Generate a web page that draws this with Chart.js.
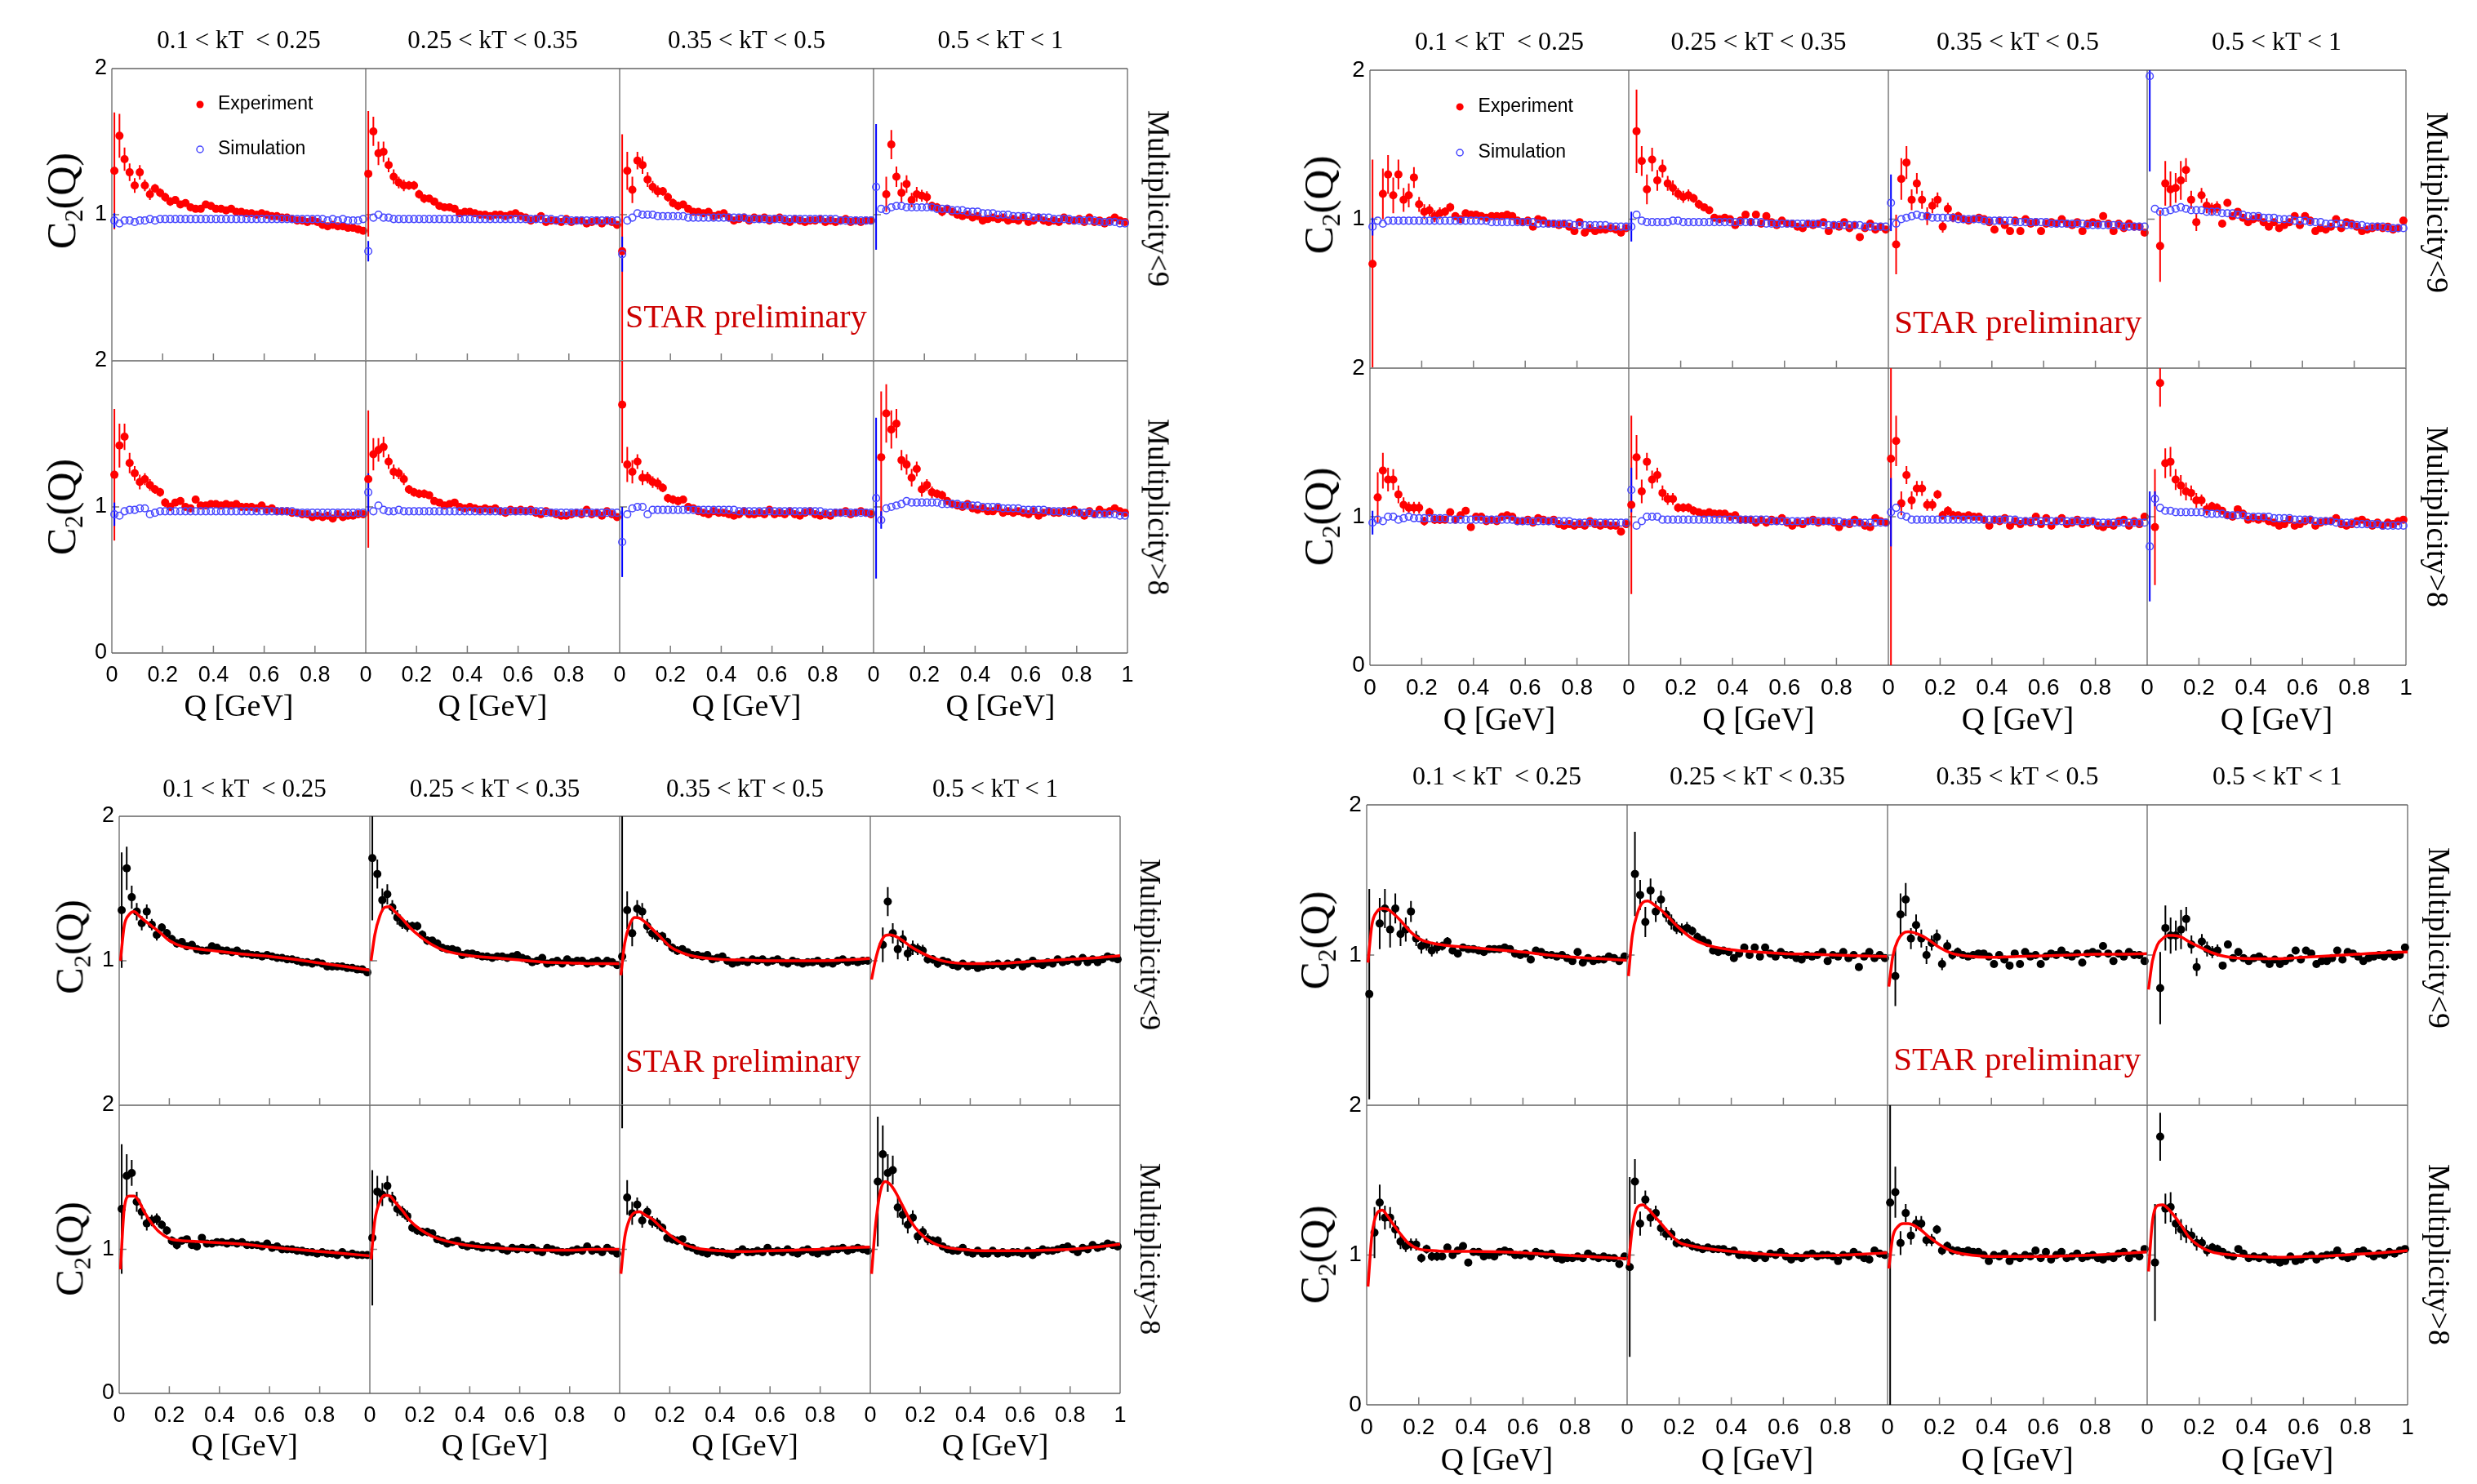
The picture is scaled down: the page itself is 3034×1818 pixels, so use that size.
<!DOCTYPE html>
<html>
<head>
<meta charset="utf-8">
<script src="https://cdn.jsdelivr.net/npm/chart.js@4.4.0/dist/chart.umd.min.js"></script>
<style>
  body { margin: 0; background: #fff; }
  #page { position: relative; width: 3034px; height: 1818px; overflow: hidden; background: #fff; }
  #page canvas { position: absolute; }
  .lbl { position: absolute; white-space: pre; color: #000; line-height: 1; }
  .lbl sub { font-size: 62%; vertical-align: -0.28em; line-height: 0; }
</style>
</head>
<body>
<div id="page"></div>
<script>
// ---- data ----
const qBins = [0.01,0.03,0.05,0.07,0.09,0.11,0.13,0.15,0.17,0.19,0.21,0.23,0.25,0.27,0.29,0.31,0.33,0.35,0.37,0.39,
  0.41,0.43,0.45,0.47,0.49,0.51,0.53,0.55,0.57,0.59,0.61,0.63,0.65,0.67,0.69,0.71,0.73,0.75,0.77,0.79,
  0.81,0.83,0.85,0.87,0.89,0.91,0.93,0.95,0.97,0.99];
const qFit = [0.005,0.02,0.04,0.06,0.08,0.1,0.13,0.16,0.2,0.25,0.3,0.4,0.5,0.6,0.7,0.8,0.9,1.0];

const kTLabels = ['0.1 < kT  < 0.25', '0.25 < kT < 0.35', '0.35 < kT < 0.5', '0.5 < kT < 1'];
const multLabels = ['Multiplicity<9', 'Multiplicity>8'];
const seriesNames = ['Experiment', 'Simulation'];
const xTickValues = [0, 0.2, 0.4, 0.6, 0.8, 1];
const xTickLabels = ['0', '0.2', '0.4', '0.6', '0.8', '1'];
const yTickValues = [0, 1, 2];
const yTickLabels = ['0', '1', '2'];

// upper-left figure: experiment, Multiplicity<9
const expA_lt9_kt1 = [1.30,1.54,1.38,1.29,1.20,1.29,1.20,1.14,1.18,1.15,1.12,1.09,1.10,1.07,1.08,1.05,1.04,1.04,1.07,1.06,
  1.04,1.04,1.03,1.04,1.02,1.02,1.01,1.01,1.00,1.01,1.00,0.99,0.99,0.98,0.98,0.97,0.96,0.96,0.95,0.96,
  0.95,0.93,0.92,0.93,0.92,0.92,0.91,0.91,0.90,0.89];
const expA_lt9_kt2 = [1.28,1.57,1.42,1.43,1.34,1.26,1.22,1.20,1.20,1.20,1.14,1.11,1.11,1.09,1.06,1.05,1.05,1.04,1.01,1.02,
  1.02,1.01,1.00,1.00,0.99,1.00,1.00,0.99,1.00,1.01,0.99,0.98,0.96,0.97,0.99,0.95,0.96,0.96,0.95,0.97,
  0.95,0.96,0.96,0.94,0.95,0.96,0.94,0.96,0.95,0.93];
const expA_lt9_kt3 = [0.75,1.30,1.17,1.37,1.34,1.24,1.19,1.16,1.16,1.12,1.08,1.06,1.07,1.04,1.02,1.02,1.01,1.02,0.99,1.00,
  1.01,0.98,0.96,0.97,0.98,0.96,0.98,0.97,0.98,0.96,0.97,0.98,0.96,0.95,0.97,0.96,0.95,0.96,0.96,0.97,
  0.95,0.96,0.95,0.96,0.97,0.95,0.96,0.95,0.96,0.96];
const expA_lt9_kt4 = [null,null,1.14,1.48,1.26,1.15,1.21,1.10,1.14,1.13,1.12,1.06,1.05,1.02,1.04,1.02,1.00,0.99,1.00,0.98,
  0.99,0.96,0.97,0.98,0.97,0.98,0.96,0.97,0.96,0.98,0.95,0.96,0.98,0.96,0.95,0.96,0.95,0.98,0.96,0.96,
  0.97,0.95,0.98,0.95,0.96,0.94,0.96,0.98,0.96,0.95];
// upper-left figure: experiment, Multiplicity>8
const expA_gt8_kt1 = [1.22,1.42,1.48,1.30,1.23,1.17,1.19,1.15,1.12,1.10,1.03,1.00,1.03,1.04,1.00,0.99,1.05,1.01,1.01,1.02,
  1.02,1.01,1.02,1.01,1.02,1.00,1.00,1.00,0.99,1.01,0.98,0.99,0.97,0.97,0.97,0.96,0.96,0.95,0.95,0.93,
  0.94,0.93,0.94,0.92,0.95,0.93,0.94,0.94,0.95,0.95];
const expA_gt8_kt2 = [1.19,1.36,1.39,1.41,1.31,1.24,1.23,1.19,1.12,1.10,1.09,1.09,1.08,1.04,1.03,1.01,1.02,1.03,1.00,0.99,
  1.00,0.99,0.98,0.99,0.98,0.99,0.97,0.96,0.98,0.97,0.98,0.97,0.98,0.96,0.95,0.97,0.96,0.95,0.94,0.94,
  0.95,0.96,0.95,0.98,0.95,0.96,0.94,0.97,0.95,0.93];
const expA_gt8_kt3 = [1.70,1.29,1.24,1.31,1.20,1.20,1.17,1.16,1.13,1.06,1.05,1.04,1.05,1.00,0.99,0.97,0.96,0.95,0.97,0.96,
  0.96,0.95,0.94,0.95,0.97,0.95,0.95,0.96,0.95,0.98,0.95,0.96,0.95,0.97,0.95,0.94,0.96,0.97,0.95,0.94,
  0.95,0.94,0.96,0.96,0.97,0.95,0.96,0.97,0.96,0.95];
const expA_gt8_kt4 = [null,1.34,1.64,1.53,1.57,1.32,1.29,1.20,1.26,1.12,1.15,1.10,1.09,1.08,1.04,1.02,1.01,1.00,1.02,0.99,
  0.98,0.99,0.97,0.97,0.99,0.96,0.97,0.96,0.97,0.96,0.95,0.97,0.94,0.96,0.97,0.96,0.96,0.97,0.97,0.98,
  0.96,0.94,0.97,0.95,0.98,0.96,0.97,0.99,0.97,0.96];
// error bars of the first bins (later bins hide under the marker)
const errA_lt9_kt1 = [0.40,0.15,0.08,0.06,0.05,0.05,0.04,0.04,0.03,0.03,0.03,0.03,0.02,0.02];
const errA_lt9_kt2 = [0.43,0.10,0.08,0.07,0.05,0.05,0.04,0.04,0.03,0.03,0.03,0.03,0.02,0.02];
const errA_lt9_kt3 = [0.80,0.13,0.09,0.06,0.06,0.05,0.04,0.04,0.03,0.03,0.03,0.03,0.02,0.02];
const errA_lt9_kt4 = [null,null,0.12,0.10,0.07,0.07,0.06,0.05,0.05,0.04,0.04,0.03,0.03,0.03];
const errA_gt8_kt1 = [0.45,0.15,0.09,0.07,0.05,0.05,0.04,0.04,0.03,0.03,0.03,0.03,0.02,0.02];
const errA_gt8_kt2 = [0.47,0.11,0.08,0.07,0.05,0.05,0.04,0.04,0.03,0.03,0.03,0.03,0.02,0.02];
const errA_gt8_kt3 = [0.40,0.12,0.08,0.05,0.05,0.04,0.04,0.04,0.03,0.03,0.03,0.03,0.02,0.02];
const errA_gt8_kt4 = [null,0.45,0.20,0.13,0.10,0.07,0.07,0.06,0.05,0.05,0.04,0.04,0.03,0.03];
const errC_lt9_kt3 = [1.10,0.13,0.09,0.06,0.06,0.05,0.04,0.04,0.03,0.03,0.03,0.03,0.02,0.02];

// upper-left figure: simulation
const simA_lt9_kt1 = [0.96,0.94,0.96,0.96,0.95,0.96,0.96,0.97,0.96,0.97,0.97,0.97,0.97,0.97,0.97,0.97,0.97,0.97,0.97,0.97,
  0.97,0.97,0.97,0.97,0.97,0.97,0.97,0.97,0.97,0.97,0.97,0.97,0.97,0.97,0.97,0.97,0.97,0.97,0.97,0.97,
  0.97,0.97,0.96,0.97,0.96,0.97,0.96,0.96,0.96,0.97];
const simA_lt9_kt2 = [0.75,0.98,1.00,0.98,0.98,0.97,0.97,0.97,0.97,0.97,0.97,0.97,0.97,0.97,0.97,0.97,0.97,0.97,0.97,0.97,
  0.97,0.97,0.97,0.97,0.97,0.97,0.97,0.97,0.97,0.97,0.97,0.97,0.97,0.97,0.97,0.97,0.97,0.96,0.97,0.96,
  0.96,0.96,0.96,0.96,0.96,0.96,0.96,0.96,0.96,0.96];
const simA_lt9_kt3 = [0.73,0.96,0.98,1.01,1.00,1.00,1.00,0.99,0.99,0.99,0.99,0.99,0.99,0.98,0.98,0.98,0.98,0.98,0.98,0.98,
  0.98,0.98,0.98,0.98,0.98,0.97,0.97,0.97,0.97,0.97,0.97,0.97,0.97,0.97,0.97,0.97,0.97,0.97,0.97,0.97,
  0.97,0.97,0.97,0.96,0.96,0.96,0.96,0.96,0.96,0.96];
const simA_lt9_kt4 = [1.19,1.04,1.03,1.05,1.06,1.06,1.05,1.05,1.05,1.05,1.05,1.05,1.04,1.04,1.04,1.03,1.03,1.03,1.02,1.02,
  1.02,1.01,1.01,1.01,1.00,1.00,1.00,0.99,0.99,0.99,0.99,0.98,0.98,0.98,0.98,0.97,0.97,0.97,0.97,0.96,
  0.96,0.96,0.96,0.96,0.95,0.95,0.95,0.95,0.94,0.94];
const simA_gt8_kt1 = [0.95,0.94,0.97,0.98,0.98,0.99,0.99,0.95,0.96,0.97,0.97,0.97,0.97,0.97,0.97,0.97,0.97,0.97,0.97,0.97,
  0.97,0.97,0.97,0.97,0.97,0.97,0.97,0.97,0.97,0.97,0.97,0.97,0.97,0.97,0.97,0.97,0.96,0.96,0.96,0.96,
  0.96,0.96,0.96,0.96,0.96,0.96,0.96,0.96,0.96,0.96];
const simA_gt8_kt2 = [1.10,0.97,1.01,0.98,0.97,0.97,0.98,0.97,0.97,0.97,0.97,0.97,0.97,0.97,0.97,0.97,0.97,0.97,0.97,0.97,
  0.97,0.97,0.97,0.97,0.97,0.97,0.97,0.97,0.97,0.97,0.97,0.97,0.97,0.97,0.97,0.96,0.96,0.96,0.96,0.96,
  0.96,0.96,0.96,0.96,0.96,0.96,0.96,0.96,0.96,0.96];
const simA_gt8_kt3 = [0.76,0.95,0.99,1.00,1.00,0.95,0.98,0.98,0.98,0.98,0.98,0.98,0.98,0.98,0.98,0.98,0.98,0.98,0.98,0.98,
  0.98,0.98,0.98,0.97,0.97,0.97,0.97,0.97,0.97,0.97,0.97,0.97,0.97,0.97,0.97,0.97,0.97,0.97,0.97,0.97,
  0.96,0.96,0.96,0.96,0.96,0.96,0.96,0.96,0.96,0.96];
const simA_gt8_kt4 = [1.06,0.91,0.99,1.00,1.01,1.02,1.04,1.03,1.03,1.03,1.03,1.03,1.03,1.02,1.02,1.02,1.02,1.01,1.01,1.01,
  1.01,1.00,1.00,1.00,1.00,0.99,0.99,0.99,0.99,0.98,0.98,0.98,0.98,0.98,0.97,0.97,0.97,0.97,0.96,0.96,
  0.96,0.96,0.96,0.95,0.95,0.95,0.95,0.95,0.94,0.94];
const simErrA_lt9_kt1 = [0.05];
const simErrA_lt9_kt2 = [0.07];
const simErrA_lt9_kt3 = [0.12];
const simErrA_lt9_kt4 = [0.43];
const simErrA_gt8_kt1 = [0.08];
const simErrA_gt8_kt2 = [0.13];
const simErrA_gt8_kt3 = [0.24];
const simErrA_gt8_kt4 = [0.55,0.06];

// upper-right figure: experiment, Multiplicity<9
const expB_lt9_kt1 = [0.70,null,1.17,1.30,1.16,1.30,1.13,1.16,1.28,1.10,1.05,1.06,1.02,1.04,1.05,1.08,1.02,1.00,1.04,1.03,
  1.03,1.02,1.01,1.02,1.02,1.02,1.03,1.02,0.99,0.98,0.99,0.95,1.00,0.99,0.97,0.97,0.96,0.97,0.95,0.92,
  0.98,0.91,0.94,0.92,0.93,0.93,0.94,0.93,0.91,0.94];
const expB_lt9_kt2 = [null,1.59,1.39,1.20,1.40,1.26,1.34,1.24,1.21,1.17,1.15,1.16,1.14,1.10,1.08,1.06,1.01,1.00,1.01,1.00,
  0.96,0.99,1.03,0.98,1.03,0.97,1.02,0.98,0.96,0.99,0.97,0.97,0.95,0.94,0.97,0.96,0.97,0.98,0.92,0.96,
  0.95,0.98,0.94,0.96,0.88,0.94,0.97,0.93,0.95,0.93];
const expB_lt9_kt3 = [null,0.83,1.27,1.38,1.13,1.24,1.13,1.02,1.09,1.13,0.95,1.07,1.01,1.02,1.00,0.99,1.00,1.01,1.00,0.98,
  0.93,0.99,0.96,0.92,0.99,0.92,1.00,0.97,0.98,0.92,0.97,0.98,0.97,1.00,0.97,0.96,0.98,0.92,0.97,0.98,
  0.97,1.02,0.97,0.92,0.97,0.94,0.97,0.95,0.95,0.91];
const expB_lt9_kt4 = [null,null,0.82,1.24,1.20,1.21,1.26,1.33,1.13,0.98,1.16,1.09,1.07,1.08,0.97,1.11,1.02,1.05,1.01,0.98,
  1.00,1.01,0.98,0.95,0.98,0.94,0.96,0.98,1.02,0.96,1.02,0.99,0.92,0.94,0.93,0.95,1.00,0.94,0.98,0.97,
  0.95,0.92,0.93,0.94,0.95,0.94,0.95,0.93,0.94,0.99];
// upper-right figure: experiment, Multiplicity>8
const expB_gt8_kt1 = [null,1.13,1.31,1.25,1.25,1.15,1.08,1.06,1.06,1.06,0.97,1.03,0.98,0.98,0.98,1.03,0.98,1.01,1.04,0.93,
  1.00,1.00,0.97,0.98,0.97,1.00,1.01,1.00,0.97,0.97,0.98,0.96,0.99,0.98,0.97,0.98,0.95,0.94,0.95,0.94,
  0.95,0.94,0.97,0.95,0.94,0.95,0.94,0.94,0.90,0.95];
const expB_gt8_kt2 = [1.08,1.40,1.17,1.37,1.25,1.28,1.16,1.12,1.12,1.06,1.06,1.06,1.04,1.03,1.02,1.03,1.02,1.02,1.02,1.00,
  1.01,0.98,0.98,0.98,0.96,0.98,0.96,0.98,0.97,0.99,0.96,0.94,0.96,0.95,0.97,0.98,0.96,0.97,0.97,0.96,
  0.93,0.96,0.95,0.98,0.96,0.94,0.93,0.99,0.97,0.96];
const expB_gt8_kt3 = [1.39,1.51,1.09,1.28,1.11,1.19,1.19,1.08,1.08,1.15,1.01,1.04,1.01,1.01,1.00,1.01,1.00,1.00,0.98,0.94,
  0.98,0.97,0.99,0.94,0.97,0.95,0.97,0.96,1.00,0.95,0.99,0.94,0.97,0.99,0.95,0.96,0.98,0.95,0.96,0.97,
  0.94,0.93,0.95,0.94,0.97,0.98,0.94,0.97,0.95,1.00];
const expB_gt8_kt4 = [null,0.93,1.90,1.36,1.37,1.25,1.21,1.17,1.16,1.11,1.11,1.05,1.07,1.06,1.04,1.01,1.00,1.05,1.02,0.98,
  0.99,0.98,0.99,0.97,0.96,0.94,0.95,0.98,0.94,0.95,0.97,0.98,0.94,0.96,0.97,0.97,0.99,0.95,0.94,0.95,
  0.97,0.98,0.96,0.94,0.96,0.94,0.96,0.95,0.97,0.98];
const errB_lt9_kt1 = [0.70,null,0.17,0.13,0.12,0.10,0.08,0.08,0.07,0.05,0.05,0.04,0.04,0.04,0.03,0.03];
const errB_lt9_kt2 = [null,0.28,0.10,0.10,0.08,0.07,0.06,0.05,0.05,0.04,0.04,0.04,0.03,0.03];
const errB_lt9_kt3 = [null,0.20,0.14,0.11,0.07,0.07,0.06,0.06,0.05,0.05,0.04,0.04,0.03,0.03];
const errB_lt9_kt4 = [null,null,0.24,0.15,0.12,0.10,0.13,0.08,0.06,0.06,0.05,0.05,0.04,0.04];
const errB_gt8_kt1 = [null,0.17,0.12,0.08,0.07,0.06,0.05,0.04,0.04,0.04,0.03,0.03,0.03,0.03];
const errB_gt8_kt2 = [0.60,0.15,0.08,0.06,0.06,0.05,0.05,0.04,0.04,0.03,0.03,0.03,0.03,0.02];
const errB_gt8_kt3 = [1.40,0.17,0.08,0.06,0.06,0.05,0.05,0.04,0.04,0.03,0.03,0.03,0.03,0.02];
const errB_gt8_kt4 = [null,0.39,0.16,0.10,0.10,0.07,0.07,0.06,0.05,0.05,0.04,0.04,0.03,0.03];

// upper-right figure: simulation
const simB_lt9_kt1 = [0.95,0.99,0.97,0.99,0.99,0.99,0.99,0.99,0.99,0.99,0.99,0.99,0.99,0.99,0.99,0.99,0.99,0.99,0.99,0.99,
  0.99,0.99,0.99,0.98,0.98,0.98,0.98,0.98,0.98,0.98,0.98,0.98,0.97,0.97,0.97,0.97,0.97,0.97,0.97,0.96,
  0.96,0.96,0.96,0.96,0.96,0.96,0.95,0.95,0.95,0.95];
const simB_lt9_kt2 = [0.95,1.03,0.99,0.98,0.98,0.98,0.98,0.98,0.99,0.99,0.98,0.98,0.98,0.98,0.98,0.98,0.98,0.98,0.98,0.98,
  0.98,0.98,0.98,0.98,0.98,0.98,0.97,0.97,0.97,0.97,0.97,0.97,0.97,0.97,0.97,0.97,0.97,0.96,0.96,0.96,
  0.96,0.96,0.96,0.96,0.96,0.95,0.95,0.95,0.95,0.95];
const simB_lt9_kt3 = [1.11,0.97,1.00,1.01,1.02,1.03,1.02,1.02,1.01,1.01,1.01,1.01,1.01,1.00,1.00,1.00,1.00,1.00,0.99,0.99,
  0.99,0.99,0.99,0.99,0.98,0.98,0.98,0.98,0.98,0.98,0.98,0.97,0.97,0.97,0.97,0.97,0.97,0.97,0.96,0.96,
  0.96,0.96,0.96,0.96,0.96,0.95,0.95,0.95,0.95,0.95];
const simB_lt9_kt4 = [1.96,1.07,1.05,1.05,1.06,1.07,1.08,1.07,1.06,1.06,1.06,1.05,1.05,1.05,1.04,1.04,1.04,1.03,1.03,1.02,
  1.02,1.02,1.01,1.01,1.01,1.00,1.00,1.00,0.99,0.99,0.99,0.98,0.98,0.98,0.97,0.97,0.97,0.97,0.96,0.96,
  0.96,0.96,0.95,0.95,0.95,0.95,0.94,0.94,0.94,0.94];
const simB_gt8_kt1 = [0.96,0.98,0.97,1.00,1.00,0.98,0.99,1.00,0.99,0.99,0.99,0.99,0.99,0.99,0.99,0.98,0.98,0.98,0.98,0.98,
  0.98,0.98,0.98,0.98,0.98,0.98,0.98,0.98,0.97,0.97,0.97,0.97,0.97,0.97,0.97,0.97,0.97,0.97,0.97,0.96,
  0.96,0.96,0.96,0.96,0.96,0.96,0.96,0.96,0.96,0.96];
const simB_gt8_kt2 = [1.18,0.94,0.97,1.00,1.00,1.00,0.98,0.98,0.98,0.98,0.98,0.98,0.98,0.98,0.98,0.98,0.98,0.98,0.98,0.98,
  0.98,0.98,0.98,0.98,0.98,0.98,0.98,0.97,0.97,0.97,0.97,0.97,0.97,0.97,0.97,0.97,0.97,0.97,0.97,0.97,
  0.97,0.96,0.96,0.96,0.96,0.96,0.96,0.96,0.96,0.96];
const simB_gt8_kt3 = [1.03,1.06,1.01,1.00,0.98,0.98,0.98,0.98,0.98,0.98,0.98,0.98,0.98,0.98,0.98,0.98,0.98,0.98,0.98,0.98,
  0.98,0.98,0.98,0.98,0.98,0.97,0.97,0.97,0.97,0.97,0.97,0.97,0.97,0.97,0.97,0.97,0.97,0.97,0.97,0.97,
  0.96,0.96,0.96,0.96,0.96,0.96,0.96,0.96,0.96,0.96];
const simB_gt8_kt4 = [0.80,1.12,1.06,1.04,1.04,1.03,1.03,1.03,1.03,1.03,1.03,1.02,1.02,1.02,1.02,1.01,1.01,1.01,1.01,1.00,
  1.00,1.00,1.00,1.00,0.99,0.99,0.99,0.99,0.98,0.98,0.98,0.98,0.97,0.97,0.97,0.97,0.96,0.96,0.96,0.96,
  0.95,0.95,0.95,0.95,0.95,0.94,0.94,0.94,0.94,0.94];
const simErrB_lt9_kt1 = [0.06];
const simErrB_lt9_kt2 = [0.10];
const simErrB_lt9_kt3 = [0.19];
const simErrB_lt9_kt4 = [0.64];
const simErrB_gt8_kt1 = [0.08];
const simErrB_gt8_kt2 = [0.15];
const simErrB_gt8_kt3 = [0.23];
const simErrB_gt8_kt4 = [0.37,0.05];

// lower-left figure: data points (black)
const expC_lt9_kt1 = [1.35,1.64,1.44,1.34,1.26,1.34,1.25,1.18,1.23,1.19,1.15,1.12,1.13,1.10,1.11,1.08,1.07,1.07,1.10,1.09,
  1.07,1.07,1.06,1.07,1.05,1.05,1.04,1.04,1.03,1.04,1.03,1.02,1.02,1.01,1.01,1.00,0.99,0.99,0.98,0.99,
  0.98,0.96,0.96,0.96,0.96,0.95,0.95,0.94,0.94,0.92];
const expC_lt9_kt2 = [1.71,1.60,1.42,1.46,1.37,1.30,1.26,1.24,1.24,1.24,1.18,1.14,1.14,1.12,1.09,1.08,1.08,1.07,1.04,1.05,
  1.05,1.04,1.03,1.03,1.02,1.03,1.03,1.02,1.03,1.04,1.02,1.01,0.99,1.00,1.02,0.98,0.99,1.00,0.98,1.01,
  0.99,1.00,1.00,0.98,0.99,1.00,0.98,1.00,0.99,0.97];
const expC_lt9_kt3 = [1.03,1.35,1.19,1.36,1.34,1.24,1.19,1.17,1.17,1.13,1.09,1.07,1.08,1.06,1.04,1.04,1.03,1.04,1.01,1.02,
  1.03,1.00,0.98,0.99,1.00,0.99,1.01,1.00,1.01,0.99,1.00,1.01,0.99,0.98,1.00,0.99,0.98,0.99,0.99,1.00,
  0.98,0.99,0.98,1.00,1.01,0.99,1.00,0.99,1.00,1.00];
const expC_lt9_kt4 = [null,null,1.11,1.41,1.19,1.08,1.15,1.05,1.09,1.08,1.07,1.01,1.01,0.98,1.00,0.99,0.97,0.96,0.98,0.96,
  0.97,0.95,0.96,0.97,0.97,0.98,0.96,0.98,0.97,0.99,0.96,0.98,1.00,0.98,0.97,0.99,0.98,1.01,0.99,1.00,
  1.01,0.99,1.02,0.99,1.01,0.99,1.01,1.03,1.02,1.01];
const expC_gt8_kt1 = [1.28,1.51,1.53,1.33,1.26,1.18,1.20,1.21,1.17,1.13,1.06,1.03,1.06,1.07,1.03,1.02,1.08,1.04,1.04,1.05,
  1.05,1.04,1.05,1.04,1.05,1.03,1.03,1.03,1.02,1.04,1.01,1.02,1.00,1.00,1.00,0.99,0.99,0.98,0.98,0.97,
  0.98,0.97,0.97,0.96,0.98,0.96,0.97,0.96,0.96,0.96];
const expC_gt8_kt2 = [1.08,1.40,1.38,1.44,1.35,1.28,1.26,1.23,1.15,1.13,1.12,1.12,1.11,1.07,1.06,1.04,1.05,1.06,1.03,1.02,
  1.03,1.02,1.01,1.02,1.01,1.02,1.00,0.99,1.01,1.00,1.01,1.00,1.01,0.99,0.98,1.01,1.00,0.99,0.98,0.98,
  0.99,1.00,0.99,1.02,0.99,1.00,0.98,1.01,0.99,0.97];
const expC_gt8_kt3 = [2.24,1.36,1.25,1.31,1.20,1.26,1.19,1.18,1.15,1.08,1.07,1.06,1.07,1.02,1.01,0.99,0.98,0.97,0.99,0.98,
  0.98,0.97,0.96,0.98,1.00,0.98,0.98,0.99,0.98,1.01,0.98,0.99,0.98,1.00,0.98,0.97,0.99,1.00,0.98,0.97,
  0.99,0.98,1.00,1.00,1.01,0.99,1.00,1.01,1.00,0.99];
const expC_gt8_kt4 = [null,1.47,1.66,1.53,1.55,1.29,1.24,1.17,1.22,1.09,1.12,1.07,1.06,1.06,1.02,1.00,0.99,0.99,1.01,0.98,
  0.97,0.99,0.97,0.97,0.99,0.97,0.98,0.97,0.98,0.98,0.97,0.99,0.96,0.98,1.00,0.99,0.99,1.00,1.01,1.02,
  1.00,0.98,1.01,1.00,1.03,1.01,1.02,1.04,1.03,1.02];

// lower-right figure: data points (black)
const expD_lt9_kt1 = [0.74,null,1.21,1.31,1.17,1.31,1.14,1.17,1.29,1.11,1.06,1.07,1.03,1.05,1.06,1.09,1.03,1.01,1.05,1.04,
  1.04,1.03,1.02,1.04,1.04,1.04,1.05,1.04,1.01,1.00,1.01,0.97,1.03,1.02,1.00,1.00,0.99,1.00,0.98,0.96,
  1.02,0.95,0.98,0.96,0.97,0.97,0.99,0.98,0.96,0.99];
const expD_lt9_kt2 = [null,1.54,1.40,1.22,1.43,1.29,1.37,1.27,1.22,1.18,1.17,1.18,1.16,1.12,1.10,1.08,1.03,1.02,1.03,1.02,
  0.98,1.01,1.05,1.00,1.05,0.99,1.05,1.01,0.99,1.02,1.00,1.00,0.98,0.97,1.00,0.99,1.00,1.02,0.96,1.00,
  0.99,1.02,0.98,1.00,0.92,0.99,1.02,0.98,1.00,0.98];
const expD_lt9_kt3 = [null,0.86,1.27,1.37,1.11,1.20,1.11,1.00,1.08,1.12,0.94,1.06,1.00,1.02,1.00,0.99,1.00,1.01,1.01,0.99,
  0.94,1.00,0.97,0.93,1.01,0.94,1.02,0.99,1.00,0.94,0.99,1.01,1.00,1.03,1.00,0.99,1.01,0.95,1.01,1.02,
  1.01,1.06,1.01,0.96,1.01,0.99,1.02,1.00,1.00,0.96];
const expD_lt9_kt4 = [null,null,0.78,1.18,1.13,1.13,1.17,1.24,1.07,0.92,1.09,1.04,1.02,1.03,0.93,1.07,0.98,1.02,0.98,0.96,
  0.98,0.99,0.97,0.94,0.97,0.94,0.96,0.98,1.03,0.97,1.03,1.01,0.94,0.96,0.96,0.98,1.03,0.97,1.02,1.01,
  0.99,0.96,0.98,0.99,1.00,0.99,1.01,0.99,1.00,1.05];
const expD_gt8_kt1 = [null,1.15,1.35,1.25,1.25,1.17,1.09,1.06,1.07,1.07,0.98,1.04,0.99,0.99,0.99,1.05,1.00,1.03,1.06,0.95,
  1.02,1.02,0.99,1.00,0.99,1.02,1.03,1.02,1.00,1.00,1.01,0.99,1.02,1.01,1.00,1.01,0.98,0.97,0.98,0.98,
  0.99,0.98,1.01,0.99,0.98,0.99,0.98,0.98,0.94,0.99];
const expD_gt8_kt2 = [0.92,1.49,1.21,1.37,1.25,1.28,1.18,1.14,1.14,1.08,1.08,1.08,1.06,1.05,1.04,1.05,1.04,1.04,1.04,1.02,
  1.03,1.00,1.00,1.00,0.98,1.00,0.98,1.01,1.00,1.02,0.99,0.97,0.99,0.98,1.00,1.01,0.99,1.00,1.00,0.99,
  0.96,1.00,0.99,1.02,1.00,0.98,0.97,1.03,1.01,1.00];
const expD_gt8_kt3 = [1.35,1.42,1.08,1.28,1.13,1.21,1.21,1.10,1.10,1.17,1.03,1.06,1.03,1.03,1.02,1.03,1.02,1.02,1.00,0.96,
  1.00,0.99,1.01,0.96,0.99,0.98,1.00,0.99,1.03,0.98,1.02,0.97,1.00,1.02,0.98,0.99,1.01,0.98,0.99,1.00,
  0.98,0.97,0.99,0.98,1.01,1.02,0.98,1.01,0.99,1.04];
const expD_gt8_kt4 = [null,0.95,1.79,1.31,1.32,1.21,1.17,1.14,1.13,1.08,1.08,1.03,1.05,1.04,1.02,1.00,0.99,1.04,1.01,0.98,
  0.99,0.98,0.99,0.97,0.97,0.95,0.96,0.99,0.96,0.97,0.99,1.00,0.97,0.99,1.00,1.00,1.03,0.99,0.98,0.99,
  1.02,1.03,1.01,0.99,1.01,1.00,1.02,1.01,1.03,1.04];

// fitted curves (lower figures), sampled at qFit
const fitC_lt9_kt1 = [1.00,1.24,1.32,1.34,1.31,1.28,1.24,1.20,1.14,1.10,1.085,1.065,1.045,1.03,1.01,0.985,0.96,0.935];
const fitC_lt9_kt2 = [1.00,1.18,1.31,1.37,1.375,1.34,1.29,1.23,1.17,1.11,1.07,1.035,1.02,1.005,0.99,0.985,0.98,0.98];
const fitC_lt9_kt3 = [0.90,1.12,1.25,1.30,1.295,1.27,1.22,1.17,1.10,1.055,1.03,1.01,1.005,1.00,1.00,1.00,1.005,1.015];
const fitC_lt9_kt4 = [0.87,1.00,1.12,1.175,1.18,1.17,1.14,1.10,1.06,1.02,0.995,0.98,0.98,0.99,1.00,1.01,1.02,1.035];
const fitC_gt8_kt1 = [0.86,1.28,1.37,1.37,1.33,1.26,1.18,1.12,1.075,1.06,1.055,1.045,1.035,1.015,1.00,0.985,0.97,0.955];
const fitC_gt8_kt2 = [0.93,1.20,1.33,1.375,1.37,1.33,1.27,1.20,1.14,1.09,1.06,1.025,1.01,1.00,0.995,0.995,1.00,1.00];
const fitC_gt8_kt3 = [0.83,1.08,1.21,1.255,1.26,1.24,1.21,1.16,1.10,1.04,1.01,0.99,0.985,0.99,0.995,1.00,1.01,1.015];
const fitC_gt8_kt4 = [0.83,1.15,1.40,1.47,1.45,1.40,1.30,1.20,1.11,1.045,1.015,0.995,0.99,0.99,0.995,1.00,1.015,1.035];
const fitD_lt9_kt1 = [0.95,1.20,1.29,1.31,1.305,1.28,1.23,1.17,1.11,1.08,1.065,1.05,1.035,1.02,1.00,0.985,0.975,0.965];
const fitD_lt9_kt2 = [0.86,1.13,1.28,1.35,1.36,1.34,1.30,1.25,1.18,1.11,1.07,1.035,1.02,1.01,1.005,1.00,0.995,0.99];
const fitD_lt9_kt3 = [0.79,0.99,1.10,1.145,1.155,1.15,1.13,1.10,1.05,1.01,0.995,0.985,0.99,0.995,1.00,1.005,1.005,1.01];
const fitD_lt9_kt4 = [0.77,0.96,1.07,1.11,1.13,1.13,1.12,1.09,1.055,1.015,0.99,0.975,0.975,0.985,0.995,1.005,1.015,1.02];
const fitD_gt8_kt1 = [0.79,1.13,1.28,1.30,1.26,1.21,1.14,1.08,1.04,1.03,1.025,1.025,1.022,1.015,1.005,0.995,0.985,0.975];
const fitD_gt8_kt2 = [0.93,1.18,1.32,1.335,1.31,1.27,1.21,1.15,1.085,1.06,1.045,1.025,1.01,0.998,0.995,0.997,1.005,1.015];
const fitD_gt8_kt3 = [0.91,1.12,1.19,1.21,1.21,1.20,1.165,1.12,1.07,1.025,1.005,0.99,0.99,0.99,0.995,1.00,1.01,1.02];
const fitD_gt8_kt4 = [0.89,1.22,1.33,1.335,1.31,1.27,1.20,1.12,1.06,1.02,1.005,0.99,0.985,0.99,0.995,1.005,1.015,1.03];

// ---- assembly ----
const expA = [[expA_lt9_kt1, expA_lt9_kt2, expA_lt9_kt3, expA_lt9_kt4], [expA_gt8_kt1, expA_gt8_kt2, expA_gt8_kt3, expA_gt8_kt4]];
const errA = [[errA_lt9_kt1, errA_lt9_kt2, errA_lt9_kt3, errA_lt9_kt4], [errA_gt8_kt1, errA_gt8_kt2, errA_gt8_kt3, errA_gt8_kt4]];
const simA = [[simA_lt9_kt1, simA_lt9_kt2, simA_lt9_kt3, simA_lt9_kt4], [simA_gt8_kt1, simA_gt8_kt2, simA_gt8_kt3, simA_gt8_kt4]];
const simErrA = [[simErrA_lt9_kt1, simErrA_lt9_kt2, simErrA_lt9_kt3, simErrA_lt9_kt4], [simErrA_gt8_kt1, simErrA_gt8_kt2, simErrA_gt8_kt3, simErrA_gt8_kt4]];
const expB = [[expB_lt9_kt1, expB_lt9_kt2, expB_lt9_kt3, expB_lt9_kt4], [expB_gt8_kt1, expB_gt8_kt2, expB_gt8_kt3, expB_gt8_kt4]];
const errB = [[errB_lt9_kt1, errB_lt9_kt2, errB_lt9_kt3, errB_lt9_kt4], [errB_gt8_kt1, errB_gt8_kt2, errB_gt8_kt3, errB_gt8_kt4]];
const simB = [[simB_lt9_kt1, simB_lt9_kt2, simB_lt9_kt3, simB_lt9_kt4], [simB_gt8_kt1, simB_gt8_kt2, simB_gt8_kt3, simB_gt8_kt4]];
const simErrB = [[simErrB_lt9_kt1, simErrB_lt9_kt2, simErrB_lt9_kt3, simErrB_lt9_kt4], [simErrB_gt8_kt1, simErrB_gt8_kt2, simErrB_gt8_kt3, simErrB_gt8_kt4]];
const expC = [[expC_lt9_kt1, expC_lt9_kt2, expC_lt9_kt3, expC_lt9_kt4], [expC_gt8_kt1, expC_gt8_kt2, expC_gt8_kt3, expC_gt8_kt4]];
const errC = [[errA_lt9_kt1, errA_lt9_kt2, errC_lt9_kt3, errA_lt9_kt4], errA[1]];
const fitC = [[fitC_lt9_kt1, fitC_lt9_kt2, fitC_lt9_kt3, fitC_lt9_kt4], [fitC_gt8_kt1, fitC_gt8_kt2, fitC_gt8_kt3, fitC_gt8_kt4]];
const expD = [[expD_lt9_kt1, expD_lt9_kt2, expD_lt9_kt3, expD_lt9_kt4], [expD_gt8_kt1, expD_gt8_kt2, expD_gt8_kt3, expD_gt8_kt4]];
const fitD = [[fitD_lt9_kt1, fitD_lt9_kt2, fitD_lt9_kt3, fitD_lt9_kt4], [fitD_gt8_kt1, fitD_gt8_kt2, fitD_gt8_kt3, fitD_gt8_kt4]];

const figures = [
  { left: 137,  top: 84,   pw: 311,    rh: 358,   kind: 'sim', exp: expA, err: errA, sim: simA, simErr: simErrA },
  { left: 1678, top: 86,   pw: 317.25, rh: 364.5, kind: 'sim', exp: expB, err: errB, sim: simB, simErr: simErrB },
  { left: 146,  top: 1000, pw: 306.5,  rh: 353.5, kind: 'fit', exp: expC, err: errC, fit: fitC },
  { left: 1674, top: 986,  pw: 318.75, rh: 367.5, kind: 'fit', exp: expD, err: errB, fit: fitD }
];

const SERIF = '"Liberation Serif", "Times New Roman", serif';
const SANS = '"Liberation Sans", Arial, Helvetica, sans-serif';
const RED = '#ff0000', BLUE = '#0000ff', SIMBLUE = '#4646ff';
const M = 70; // canvas margin around each pad
const page = document.getElementById('page');

function pts(xs, ys) {
  return ys.map((v, i) => (v == null ? null : { x: xs[i], y: v })).filter(Boolean);
}

const panelDeco = {
  id: 'panelDeco',
  beforeDatasetsDraw(chart, args, o) {
    const { ctx, chartArea: a, scales: { x, y } } = chart;
    const s = o.s;
    ctx.save();
    // pad frame
    ctx.strokeStyle = '#8a8a8a'; ctx.lineWidth = 2;
    ctx.beginPath();
    ctx.moveTo(a.left, a.top); ctx.lineTo(a.right, a.top);
    ctx.moveTo(a.left, a.bottom); ctx.lineTo(a.right, a.bottom);
    ctx.stroke();
    ctx.strokeStyle = '#5a5a5a'; ctx.lineWidth = 1.2;
    ctx.beginPath();
    ctx.moveTo(a.left, a.top); ctx.lineTo(a.left, a.bottom);
    if (o.lastCol) { ctx.moveTo(a.right, a.top); ctx.lineTo(a.right, a.bottom); }
    ctx.stroke();
    // ticks
    ctx.strokeStyle = '#7a7a7a'; ctx.lineWidth = 1.5;
    ctx.beginPath();
    xTickValues.forEach(v => {
      if (v <= 0 || v >= 1) return;
      const px = x.getPixelForValue(v);
      ctx.moveTo(px, a.bottom); ctx.lineTo(px, a.bottom - 9 * s);
    });
    const p1 = y.getPixelForValue(1);
    ctx.moveTo(a.left, p1); ctx.lineTo(a.left + 9 * s, p1);
    ctx.stroke();
    // error bars
    ctx.beginPath(); ctx.rect(a.left, a.top, a.width, a.height); ctx.clip();
    o.bars.forEach(b => {
      ctx.strokeStyle = b.color; ctx.lineWidth = 2;
      ctx.beginPath();
      b.err.forEach((e, i) => {
        const v = b.vals[i];
        if (e == null || v == null) return;
        const px = x.getPixelForValue(qBins[i]);
        ctx.moveTo(px, y.getPixelForValue(v + e));
        ctx.lineTo(px, y.getPixelForValue(v - e));
      });
      ctx.stroke();
    });
    ctx.restore();
  },
  afterDraw(chart, args, o) {
    const { ctx, chartArea: a, scales: { x, y } } = chart;
    const s = o.s;
    ctx.save();
    ctx.fillStyle = '#000';
    ctx.font = Math.round(27 * s) + 'px ' + SANS;
    if (o.firstCol) {
      ctx.textAlign = 'right'; ctx.textBaseline = 'middle';
      yTickValues.forEach((v, i) => {
        if (o.row === 0 && v === 0) return;
        ctx.fillText(yTickLabels[i], a.left - 6 * s, y.getPixelForValue(v));
      });
    }
    if (o.row === 1) {
      ctx.textAlign = 'center'; ctx.textBaseline = 'middle';
      xTickValues.forEach((v, i) => {
        if (v === 1 && !o.lastCol) return;
        ctx.fillText(xTickLabels[i], x.getPixelForValue(v), a.bottom + 28 * s);
      });
    }
    if (o.legend) {
      const lx = a.left + 108 * s;
      const rows = [a.top + 44 * s, a.top + 99 * s];
      ctx.fillStyle = RED;
      ctx.beginPath(); ctx.arc(lx, rows[0], 4.5, 0, Math.PI * 2); ctx.fill();
      ctx.strokeStyle = SIMBLUE; ctx.lineWidth = 1.5;
      ctx.beginPath(); ctx.arc(lx, rows[1], 4, 0, Math.PI * 2); ctx.stroke();
      ctx.fillStyle = '#000';
      ctx.font = Math.round(23 * s) + 'px ' + SANS;
      ctx.textAlign = 'left'; ctx.textBaseline = 'middle';
      ctx.fillText(seriesNames[0], a.left + 130 * s, rows[0]);
      ctx.fillText(seriesNames[1], a.left + 130 * s, rows[1]);
    }
    ctx.restore();
  }
};

function addText(content, x, y, size, opts) {
  opts = opts || {};
  const d = document.createElement('div');
  d.className = 'lbl';
  d.style.font = size + 'px ' + (opts.font || SERIF);
  d.style.left = x + 'px';
  d.style.top = y + 'px';
  d.style.transform = (opts.anchorLeft ? 'translate(0,-50%)' : 'translate(-50%,-50%)') + (opts.rot ? ' rotate(' + opts.rot + 'deg)' : '');
  if (opts.color) d.style.color = opts.color;
  if (opts.html) d.innerHTML = content; else d.textContent = content;
  page.appendChild(d);
}

figures.forEach(fig => {
  const s = fig.pw / 311;
  for (let r = 0; r < 2; r++) {
    for (let c = 0; c < 4; c++) {
      const x0 = Math.round(fig.left + c * fig.pw), x1 = Math.round(fig.left + (c + 1) * fig.pw);
      const y0 = Math.round(fig.top + r * fig.rh), y1 = Math.round(fig.top + (r + 1) * fig.rh);
      const cv = document.createElement('canvas');
      const w = x1 - x0 + 2 * M, h = y1 - y0 + 2 * M;
      cv.width = w; cv.height = h;
      cv.style.left = (x0 - M) + 'px'; cv.style.top = (y0 - M) + 'px';
      cv.style.width = w + 'px'; cv.style.height = h + 'px';
      page.appendChild(cv);

      const expVals = fig.exp[r][c];
      const expColor = fig.kind === 'sim' ? RED : '#000000';
      const datasets = [];
      const bars = [];
      if (fig.kind === 'sim') {
        const simVals = fig.sim[r][c];
        datasets.push({
          label: seriesNames[1], data: pts(qBins, simVals), showLine: false,
          pointStyle: 'circle', pointRadius: 4.3, pointBorderWidth: 1.5,
          pointBorderColor: SIMBLUE, pointBackgroundColor: 'rgba(255,255,255,0)', clip: 8
        });
        bars.push({ vals: expVals, err: fig.err[r][c], color: RED });
        bars.push({ vals: simVals, err: fig.simErr[r][c], color: BLUE });
      } else {
        datasets.push({
          label: 'Fit', data: pts(qFit, fig.fit[r][c]), showLine: true,
          borderColor: RED, borderWidth: 3.5, pointRadius: 0, fill: false,
          cubicInterpolationMode: 'monotone'
        });
        bars.push({ vals: expVals, err: fig.err[r][c], color: '#000000' });
      }
      datasets.push({
        label: seriesNames[0], data: pts(qBins, expVals), showLine: false,
        pointStyle: 'circle', pointRadius: 5, pointBorderWidth: 0,
        pointBackgroundColor: expColor, pointBorderColor: expColor, clip: 8
      });

      new Chart(cv, {
        type: 'scatter',
        data: { datasets },
        options: {
          responsive: false, animation: false, devicePixelRatio: 1, events: [],
          layout: { padding: M },
          scales: {
            x: { type: 'linear', min: 0, max: 1, display: false },
            y: { type: 'linear', min: 0, max: 2, display: false }
          },
          plugins: {
            legend: { display: false }, tooltip: { enabled: false },
            panelDeco: { s, row: r, firstCol: c === 0, lastCol: c === 3, bars, legend: fig.kind === 'sim' && r === 0 && c === 0 }
          }
        },
        plugins: [panelDeco]
      });

      const cx = (x0 + x1) / 2;
      if (r === 0) addText(kTLabels[c], cx, fig.top - 35 * s, Math.round(31 * s));
      if (r === 1) addText('Q [GeV]', cx, y1 + 64 * s, Math.round(38 * s));
      if (r === 0 && c === 2) {
        addText('STAR preliminary', x0 + 7 * s, fig.top + fig.rh * (2 - 0.31) / 2, Math.round(40 * s), { color: '#cc0000', anchorLeft: true });
      }
    }
    const rowMid = fig.top + (r + 0.5) * fig.rh;
    addText('C<sub>2</sub>(Q)', fig.left - 62 * s, rowMid + (r === 0 ? -17 : 0) * s, Math.round(50 * s), { rot: -90, html: true });
    addText(multLabels[r], fig.left + 4 * fig.pw + 38 * s, rowMid + (r === 0 ? -20 : 0) * s, Math.round(37 * s), { rot: 90 });
  }
});
</script>
</body>
</html>
